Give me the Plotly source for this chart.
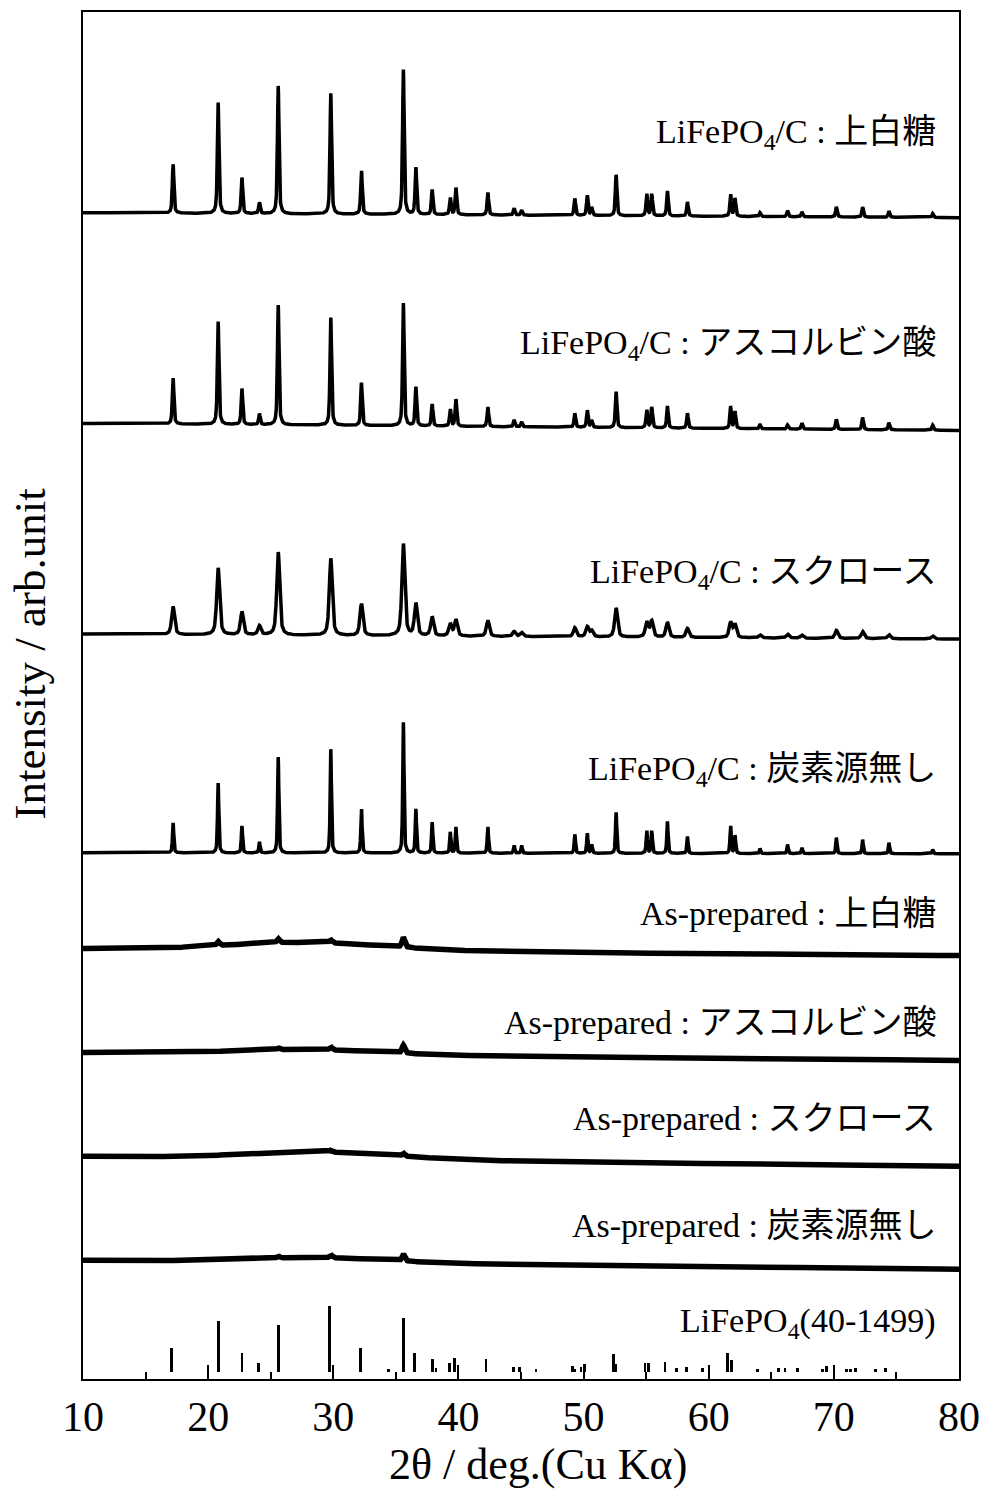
import numpy as np
import plotly.graph_objects as go

# 2θ grid for the measured patterns
TWO_THETA = np.arange(10.0, 80.0001, 0.02)

# LiFePO4 reflection positions (2θ, deg) seen in the calcined samples
PEAK_POS = [17.2, 20.8, 22.7, 24.1, 25.6, 29.8, 32.25, 35.6, 36.6, 37.9, 39.35,
            39.8, 42.35, 44.45, 45.05, 49.3, 50.3, 50.65, 52.6, 55.05, 55.45,
            56.7, 58.3, 61.75, 62.1, 64.1, 66.3, 67.45, 70.2, 72.3, 74.4, 77.9]

# Peak intensities (arb. unit) of each LiFePO4/C sample
H_JOHAKUTO = [49, 111, 36, 11, 128, 121, 44, 145, 47, 25, 17, 27, 23, 7, 5, 17,
              20, 8, 41, 22, 22, 25, 14, 22, 18, 4, 6, 5, 10, 10, 6, 4]
H_ASCORBIC = [46, 103, 36, 11, 120, 108, 42, 123, 39, 22, 17, 27, 20, 7, 5, 14,
              17, 7, 36, 18, 21, 22, 15, 21, 17, 4, 4, 6, 10, 12, 7, 5]
H_SUCROSE = [28, 67, 23, 9, 83, 77, 32, 92, 32, 19, 12, 16, 16, 5, 4, 9,
             10, 6, 29, 15, 16, 15, 9, 15, 13, 3, 4, 3, 8, 7, 4, 3]
H_NONE = [30, 70, 27, 11, 96, 104, 45, 131, 44, 31, 20, 26, 27, 8, 8, 19,
          20, 9, 41, 23, 23, 32, 17, 28, 18, 5, 9, 6, 16, 14, 11, 4]

# Background levels (at 10° and 80°) and peak widths (FWHM, deg)
BG_CALCINED = [[1168, 1163], [957, 950], [746, 741], [527, 526]]
FWHM_CALCINED = [0.15, 0.15, 0.28, 0.12]

# As-prepared precursors: background, amorphous hump (centre, FWHM, height)
BG_PRECURSOR = [[431, 424], [327, 319], [223, 213], [119, 110]]
HUMP_PRECURSOR = [[28, 15, 8], [28, 14, 5], [29, 14, 7], [29, 13, 5]]
# Weak reflections in the precursors: positions and heights
PRE_PEAK_POS = [20.8, 25.6, 29.8, 35.6]
PRE_PEAK_H = [[4, 4, 3, 10], [0, 2, 3, 8], [0, 0, 2, 3], [0, 2, 3, 7]]

# Reference pattern LiFePO4 (PDF 40-1499)
STICK_POS = [17.1, 20.8, 22.7, 24.0, 25.6, 29.7, 32.2, 34.4, 35.6, 36.5, 37.9,
             38.2, 39.3, 39.7, 42.2, 44.4, 44.9, 46.2, 49.1, 49.3, 49.8, 50.1,
             52.4, 52.6, 54.9, 55.2, 56.5, 57.4, 58.2, 59.5, 61.5, 61.8, 63.9,
             65.6, 66.1, 67.1, 69.1, 69.4, 71.0, 71.3, 71.7, 73.3, 74.1]
STICK_H = [24, 51, 19, 9, 47, 66, 24, 3, 54, 19, 13, 4, 9, 14, 13, 5, 5, 3, 6,
           3, 5, 8, 18, 8, 9, 9, 10, 4, 5, 4, 19, 12, 3, 4, 4, 4, 3, 6, 3, 3, 4,
           3, 4]
STICK_BASE = 7

LABELS = [
    "LiFePO<sub>4</sub>/C : 上白糖",
    "LiFePO<sub>4</sub>/C : アスコルビン酸",
    "LiFePO<sub>4</sub>/C : スクロース",
    "LiFePO<sub>4</sub>/C : 炭素源無し",
    "As-prepared : 上白糖",
    "As-prepared : アスコルビン酸",
    "As-prepared : スクロース",
    "As-prepared : 炭素源無し",
    "LiFePO<sub>4</sub>(40-1499)",
]
LABEL_Y = [1247, 1036, 806, 609, 466, 357, 261, 154, 56]


def pseudo_voigt(x, x0, fwhm, eta=0.6):
    u = (x - x0) / fwhm
    return eta / (1 + 4 * u ** 2) + (1 - eta) * np.exp(-4 * np.log(2) * u ** 2)


def background(x, bg):
    return bg[0] + (bg[1] - bg[0]) * (x - x[0]) / (x[-1] - x[0])


def pattern(heights, bg, fwhm):
    y = background(TWO_THETA, bg)
    for p, h in zip(PEAK_POS, heights):
        y = y + h * pseudo_voigt(TWO_THETA, p, fwhm)
    return y


def precursor(bg, hump, peaks):
    y = background(TWO_THETA, bg)
    c, w, a = hump
    y = y + a * np.exp(-4 * np.log(2) * ((TWO_THETA - c) / w) ** 2)
    for p, h in zip(PRE_PEAK_POS, peaks):
        y = y + h * pseudo_voigt(TWO_THETA, p, 0.25)
    return y


fig = go.Figure()

for hs, bg, fw in zip([H_JOHAKUTO, H_ASCORBIC, H_SUCROSE, H_NONE],
                      BG_CALCINED, FWHM_CALCINED):
    fig.add_trace(go.Scatter(x=TWO_THETA, y=pattern(hs, bg, fw), mode="lines",
                             line=dict(color="black", width=3.5),
                             showlegend=False, hoverinfo="skip"))

for bg, hump, pk in zip(BG_PRECURSOR, HUMP_PRECURSOR, PRE_PEAK_H):
    fig.add_trace(go.Scatter(x=TWO_THETA, y=precursor(bg, hump, pk), mode="lines",
                             line=dict(color="black", width=5.5),
                             showlegend=False, hoverinfo="skip"))

fig.add_trace(go.Bar(x=STICK_POS, y=STICK_H, base=STICK_BASE, width=0.22,
                     marker=dict(color="black", line=dict(width=0)),
                     showlegend=False, hoverinfo="skip"))

SERIF = "Liberation Serif, Times New Roman, Noto Sans CJK JP, serif"

for text, yv in zip(LABELS, LABEL_Y):
    fig.add_annotation(x=78.3, y=yv, xref="x", yref="y", text=text,
                       showarrow=False, xanchor="right", yanchor="middle",
                       font=dict(family=SERIF, size=34, color="black"))

# Axis titles
fig.add_annotation(x=0.519, y=-0.0628, xref="paper", yref="paper",
                   text="2θ / deg.(Cu Kα)", showarrow=False,
                   xanchor="center", yanchor="middle",
                   font=dict(family=SERIF, size=44, color="black"))
fig.add_annotation(x=-0.0601, y=0.531, xref="paper", yref="paper",
                   text="Intensity / arb.unit", showarrow=False, textangle=-90,
                   xanchor="center", yanchor="middle",
                   font=dict(family=SERIF, size=45, color="black"))

fig.update_layout(
    width=990, height=1499,
    margin=dict(l=83, r=25, t=10, b=120),
    paper_bgcolor="white", plot_bgcolor="white",
    font=dict(family=SERIF, color="black"),
    bargap=0,
)

fig.update_xaxes(
    range=[10, 80], dtick=10, tick0=10,
    showline=True, linecolor="black", linewidth=2, mirror=True,
    ticks="inside", ticklen=14, tickwidth=2, tickcolor="black",
    minor=dict(dtick=5, tick0=10, ticks="inside", ticklen=7, tickwidth=2,
               tickcolor="black", showgrid=False),
    showgrid=False, zeroline=False,
    tickfont=dict(family=SERIF, size=42, color="black"),
)

fig.update_yaxes(
    range=[0, 1369],
    showline=True, linecolor="black", linewidth=2, mirror=True,
    ticks="", showticklabels=False, showgrid=False, zeroline=False,
)

fig.write_html("out.html")
